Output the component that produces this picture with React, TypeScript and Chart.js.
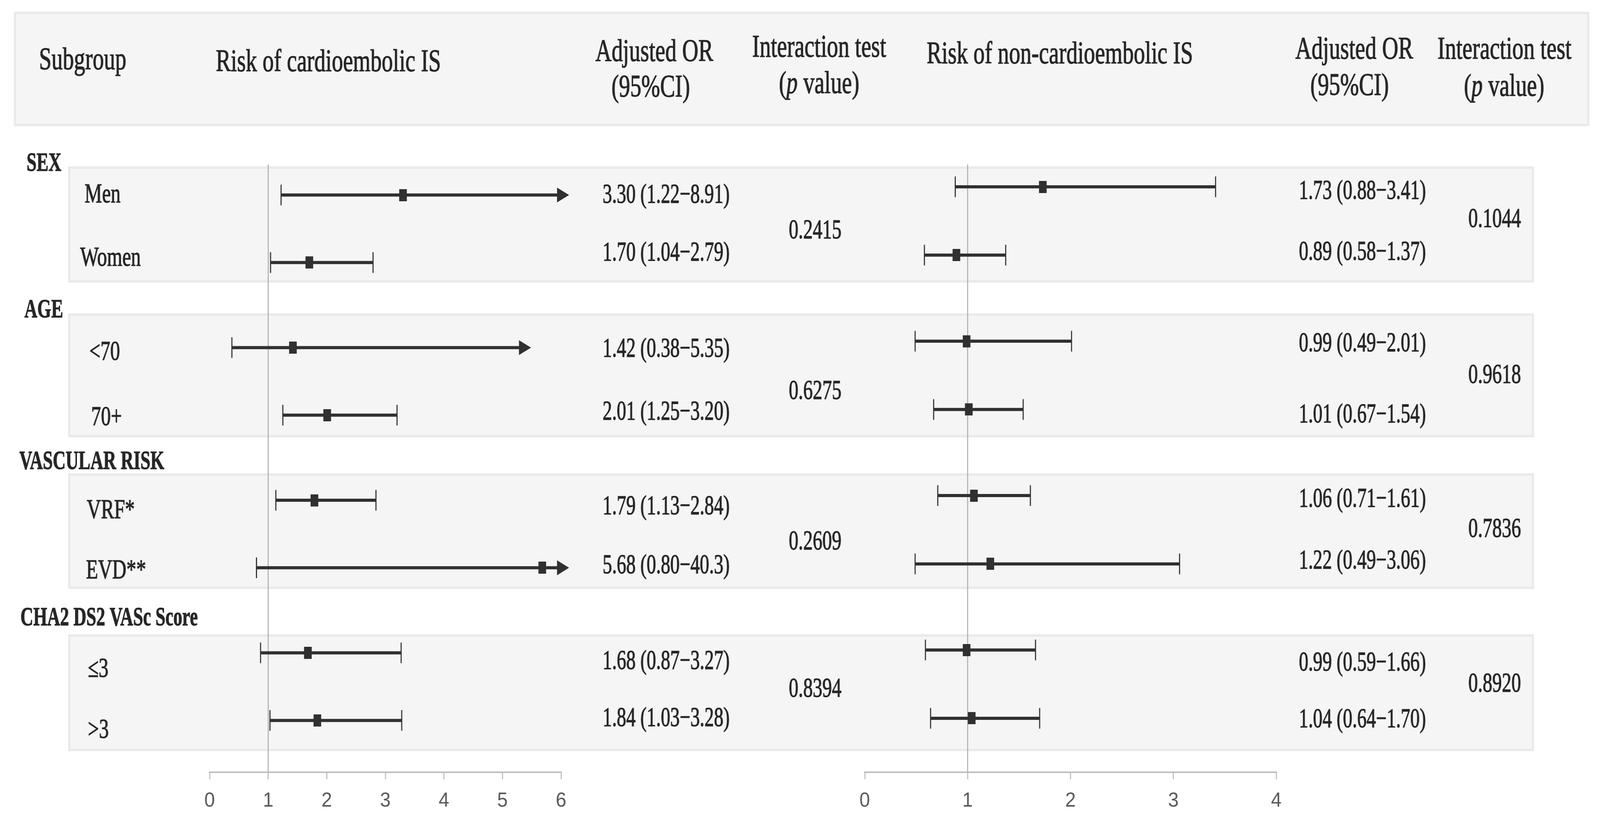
import React, { useEffect, useRef } from 'react';
import { Chart, registerables } from 'chart.js';

Chart.register(...registerables);

// ---------------- data ----------------
const GROUPS = ['SEX', 'AGE', 'VASCULAR RISK', 'CHA2 DS2 VASc Score'];
const SUBGROUPS = ['Men', 'Women', '<70', '70+', 'VRF*', 'EVD**', '≤3', '>3'];
const GROUP_OF_ROW = [0, 0, 1, 1, 2, 2, 3, 3];

const CE_OR = [3.3, 1.7, 1.42, 2.01, 1.79, 5.68, 1.68, 1.84];
const CE_LO = [1.22, 1.04, 0.38, 1.25, 1.13, 0.8, 0.87, 1.03];
const CE_HI = [8.91, 2.79, 5.35, 3.2, 2.84, 40.3, 3.27, 3.28];
const CE_ARROW = [true, false, true, false, false, true, false, false];
const CE_P = ['0.2415', '0.6275', '0.2609', '0.8394'];
const CE_TICKS = [0, 1, 2, 3, 4, 5, 6];

const NCE_OR = [1.73, 0.89, 0.99, 1.01, 1.06, 1.22, 0.99, 1.04];
const NCE_LO = [0.88, 0.58, 0.49, 0.67, 0.71, 0.49, 0.59, 0.64];
const NCE_HI = [3.41, 1.37, 2.01, 1.54, 1.61, 3.06, 1.66, 1.7];
const NCE_ARROW = [false, false, false, false, false, false, false, false];
const NCE_P = ['0.1044', '0.9618', '0.7836', '0.8920'];
const NCE_TICKS = [0, 1, 2, 3, 4];

const REF_VALUE = 1;

// ---------------- layout ----------------
const W = 4389;
const H = 2111;
const AXIS_Y = 1976;
const AXIS_BOX = 110;
const GROUP_STRIDE = 2.26;
const REF_TOP_PX = 421;

const LEFT_LAYOUT = { x0: 575, x1: 1539, origin: 499, unit: 172.8 };
const RIGHT_LAYOUT = { x0: 2372, x1: 3501, origin: 478, unit: 174.8 };

const HEADER_BAND = { x: 38, y: 30, w: 4322, h: 293 };
const BAND_X = 187;
const BAND_W = 4021;
const BAND_Y = [
  [426, 723],
  [802, 1119],
  [1211, 1507],
  [1623, 1922],
];

const TXT = {
  rowLabelX: [232, 220, 245, 250, 238, 236, 241, 241],
  rowLabelY: [518, 680, 921, 1088, 1326, 1480, 1732, 1888],
  groupX: [73, 67, 53, 56],
  groupY: [437, 812, 1200, 1600],
  ceOrX: 1653,
  ceOrY: [519, 667, 913, 1074, 1316, 1467, 1712, 1858],
  cePX: 2236,
  cePY: [610, 1021, 1406, 1783],
  nceOrX: 3563,
  nceOrY: [509, 665, 899, 1081, 1297, 1455, 1716, 1861],
  ncePX: 4100,
  ncePY: [581, 980, 1374, 1770],
};

const INK = '#262626';
const MARK = '#303030';
const SERIF = '"Liberation Serif", "Times New Roman", serif';
const HEAD_SIZE = 80;
const BODY_SIZE = 70;
const GROUP_SIZE = 68;
const SX = 0.77;
const SX_BOLD = 0.72;
const TEXT_STROKE = 1.4;

// ---------------- helpers ----------------
function fmt(v: number) {
  return v >= 10 ? v.toFixed(1) : v.toFixed(2);
}

function rowUnit(i: number) {
  const g = GROUP_OF_ROW[i];
  const first = GROUP_OF_ROW.indexOf(g);
  return g * GROUP_STRIDE + (i - first);
}

function font(size: number, weight = 'normal', style = 'normal') {
  return `${style} ${weight} ${size}px ${SERIF}`;
}

function paint(ctx: CanvasRenderingContext2D, s: string, x: number, y: number) {
  ctx.fillText(s, x, y);
  ctx.strokeText(s, x, y);
}

function drawText(
  ctx: CanvasRenderingContext2D,
  s: string,
  x: number,
  y: number,
  o: { size: number; weight?: string; align?: CanvasTextAlign; sx?: number }
) {
  ctx.save();
  ctx.font = font(o.size, o.weight || 'normal');
  ctx.fillStyle = INK;
  ctx.strokeStyle = INK;
  ctx.lineWidth = TEXT_STROKE;
  ctx.lineJoin = 'round';
  ctx.textBaseline = 'alphabetic';
  ctx.textAlign = o.align || 'left';
  ctx.translate(x, y);
  ctx.scale(o.sx ?? SX, 1);
  paint(ctx, s, 0, 0);
  ctx.restore();
}

function drawRunsCentered(
  ctx: CanvasRenderingContext2D,
  runs: { t: string; italic?: boolean }[],
  cx: number,
  y: number,
  size: number,
  sx: number
) {
  ctx.save();
  let total = 0;
  const widths = runs.map((r) => {
    ctx.font = font(size, 'normal', r.italic ? 'italic' : 'normal');
    const w = ctx.measureText(r.t).width;
    total += w;
    return w;
  });
  ctx.translate(cx - (total * sx) / 2, y);
  ctx.scale(sx, 1);
  ctx.fillStyle = INK;
  ctx.strokeStyle = INK;
  ctx.lineWidth = TEXT_STROKE;
  ctx.lineJoin = 'round';
  ctx.textBaseline = 'alphabetic';
  ctx.textAlign = 'left';
  let x = 0;
  runs.forEach((r, i) => {
    ctx.font = font(size, 'normal', r.italic ? 'italic' : 'normal');
    paint(ctx, r.t, x, 0);
    x += widths[i];
  });
  ctx.restore();
}

function drawBand(ctx: CanvasRenderingContext2D, x: number, y: number, w: number, h: number) {
  ctx.save();
  ctx.fillStyle = '#f5f5f5';
  ctx.fillRect(x, y, w, h);
  ctx.strokeStyle = '#eaeaea';
  ctx.lineWidth = 6;
  ctx.strokeRect(x + 3, y + 3, w - 6, h - 6);
  ctx.restore();
}

const tablePlugin = {
  id: 'forestTable',
  beforeDraw(chart: any) {
    const ctx: CanvasRenderingContext2D = chart.ctx;
    ctx.save();
    ctx.fillStyle = '#ffffff';
    ctx.fillRect(0, 0, chart.width, chart.height);
    ctx.restore();

    drawBand(ctx, HEADER_BAND.x, HEADER_BAND.y, HEADER_BAND.w, HEADER_BAND.h);
    BAND_Y.forEach(([t, b]) => drawBand(ctx, BAND_X, t, BAND_W, b - t));

    // header
    drawText(ctx, 'Subgroup', 107, 177, { size: HEAD_SIZE });
    drawText(ctx, 'Risk of cardioembolic IS', 592, 182, { size: HEAD_SIZE });
    drawText(ctx, 'Adjusted OR', 1795, 156, { size: HEAD_SIZE, align: 'center' });
    drawText(ctx, '(95%CI)', 1785, 247, { size: HEAD_SIZE, align: 'center' });
    drawText(ctx, 'Interaction test', 2247, 145, { size: HEAD_SIZE, align: 'center' });
    drawRunsCentered(ctx, [{ t: '(' }, { t: 'p', italic: true }, { t: ' value)' }], 2247, 238, HEAD_SIZE, SX);
    drawText(ctx, 'Risk of non-cardioembolic IS', 2542, 162, { size: HEAD_SIZE });
    drawText(ctx, 'Adjusted OR', 3715, 150, { size: HEAD_SIZE, align: 'center' });
    drawText(ctx, '(95%CI)', 3702, 243, { size: HEAD_SIZE, align: 'center' });
    drawText(ctx, 'Interaction test', 4127, 150, { size: HEAD_SIZE, align: 'center' });
    drawRunsCentered(ctx, [{ t: '(' }, { t: 'p', italic: true }, { t: ' value)' }], 4126, 245, HEAD_SIZE, SX);

    // groups
    GROUPS.forEach((g, i) =>
      drawText(ctx, g, TXT.groupX[i], TXT.groupY[i], { size: GROUP_SIZE, weight: 'bold', sx: SX_BOLD })
    );
    // rows
    SUBGROUPS.forEach((s, i) => {
      drawText(ctx, s, TXT.rowLabelX[i], TXT.rowLabelY[i], { size: BODY_SIZE });
      drawText(ctx, `${fmt(CE_OR[i])} (${fmt(CE_LO[i])}−${fmt(CE_HI[i])})`, TXT.ceOrX, TXT.ceOrY[i], {
        size: BODY_SIZE,
        sx: 0.74,
      });
      drawText(ctx, `${fmt(NCE_OR[i])} (${fmt(NCE_LO[i])}−${fmt(NCE_HI[i])})`, TXT.nceOrX, TXT.nceOrY[i], {
        size: BODY_SIZE,
        sx: 0.74,
      });
    });
    CE_P.forEach((p, i) => drawText(ctx, p, TXT.cePX, TXT.cePY[i], { size: BODY_SIZE, align: 'center', sx: 0.75 }));
    NCE_P.forEach((p, i) => drawText(ctx, p, TXT.ncePX, TXT.ncePY[i], { size: BODY_SIZE, align: 'center', sx: 0.75 }));
  },
};

function makeMarker() {
  const c = document.createElement('canvas');
  c.width = 21;
  c.height = 31;
  const g = c.getContext('2d')!;
  g.fillStyle = MARK;
  g.fillRect(0, 0, 21, 31);
  return c;
}

function buildConfig(
  side: {
    or: number[];
    lo: number[];
    hi: number[];
    arrow: boolean[];
    ticks: number[];
    layout: { x0: number; x1: number; origin: number; unit: number };
  },
  withTable: boolean
): any {
  const { or, lo, hi, arrow, ticks, layout } = side;
  const axisMin = ticks[0];
  const axisMax = ticks[ticks.length - 1];
  const ys = or.map((_, i) => rowUnit(i));
  const yMin = (0 - layout.origin) / layout.unit;
  const yMax = (AXIS_Y - layout.origin) / layout.unit;
  const yRefTop = (REF_TOP_PX - layout.origin) / layout.unit;
  const marker = makeMarker();

  const ciData: any[] = [];
  ys.forEach((y, i) => {
    ciData.push({ x: lo[i], y }, { x: Math.min(hi[i], axisMax), y }, { x: null, y: null });
  });
  const capData: any[] = [];
  ys.forEach((y, i) => {
    capData.push({ x: lo[i], y });
    if (!arrow[i] && hi[i] <= axisMax) capData.push({ x: hi[i], y });
  });
  const arrowData: any[] = [];
  ys.forEach((y, i) => {
    if (arrow[i]) arrowData.push({ x: Math.min(hi[i], axisMax), y });
  });
  const pointData = ys.map((y, i) => ({ x: or[i], y }));

  return {
    type: 'scatter',
    data: {
      datasets: [
        {
          type: 'line',
          data: [
            { x: REF_VALUE, y: yRefTop },
            { x: REF_VALUE, y: yMax },
          ],
          borderColor: '#a8a8a8',
          borderWidth: 2.5,
          pointRadius: 0,
          clip: false,
          order: 5,
        },
        {
          type: 'line',
          data: ciData,
          borderColor: MARK,
          borderWidth: 8,
          pointRadius: 0,
          spanGaps: false,
          clip: false,
          order: 4,
        },
        {
          data: capData,
          pointStyle: 'line',
          pointRotation: 90,
          pointRadius: 26.5,
          pointBorderWidth: 3,
          pointBorderColor: MARK,
          clip: false,
          order: 3,
        },
        {
          data: arrowData,
          pointStyle: 'triangle',
          pointRotation: 90,
          pointRadius: 22,
          pointBorderWidth: 0,
          pointBackgroundColor: MARK,
          pointBorderColor: MARK,
          clip: false,
          order: 2,
        },
        {
          data: pointData,
          pointStyle: marker,
          pointRadius: 12,
          clip: false,
          order: 1,
        },
      ],
    },
    options: {
      animation: false,
      responsive: false,
      devicePixelRatio: 1,
      events: [],
      layout: {
        autoPadding: false,
        padding: {
          left: layout.x0,
          right: W - layout.x1,
          top: 0,
          bottom: H - AXIS_Y - AXIS_BOX,
        },
      },
      plugins: {
        legend: { display: false },
        tooltip: { enabled: false },
      },
      scales: {
        x: {
          type: 'linear',
          position: 'bottom',
          min: axisMin,
          max: axisMax,
          afterFit: (s: any) => {
            s.height = AXIS_BOX;
          },
          ticks: {
            stepSize: 1,
            autoSkip: false,
            maxRotation: 0,
            padding: 24,
            color: '#595959',
            font: { family: '"Liberation Sans Narrow", "Liberation Sans", sans-serif', size: 52 },
          },
          grid: {
            drawOnChartArea: false,
            drawTicks: true,
            tickLength: 18,
            color: '#bfbfbf',
            lineWidth: 3,
          },
          border: { display: true, color: '#bfbfbf', width: 4 },
        },
        y: {
          type: 'linear',
          display: false,
          reverse: true,
          min: yMin,
          max: yMax,
        },
      },
    },
    plugins: withTable ? [tablePlugin] : [],
  };
}

export default function App() {
  const c1 = useRef<HTMLCanvasElement>(null);
  const c2 = useRef<HTMLCanvasElement>(null);

  useEffect(() => {
    document.body.style.margin = '0';
    const ch1 = new Chart(
      c1.current!,
      buildConfig(
        { or: CE_OR, lo: CE_LO, hi: CE_HI, arrow: CE_ARROW, ticks: CE_TICKS, layout: LEFT_LAYOUT },
        true
      )
    );
    const ch2 = new Chart(
      c2.current!,
      buildConfig(
        { or: NCE_OR, lo: NCE_LO, hi: NCE_HI, arrow: NCE_ARROW, ticks: NCE_TICKS, layout: RIGHT_LAYOUT },
        false
      )
    );
    return () => {
      ch1.destroy();
      ch2.destroy();
    };
  }, []);

  const cs: React.CSSProperties = { position: 'absolute', left: 0, top: 0, width: '100vw', height: '100vh' };
  return (
    <div style={{ position: 'fixed', left: 0, top: 0, width: '100vw', height: '100vh', background: '#fff', overflow: 'hidden' }}>
      <canvas ref={c1} width={W} height={H} style={cs} />
      <canvas ref={c2} width={W} height={H} style={cs} />
    </div>
  );
}
